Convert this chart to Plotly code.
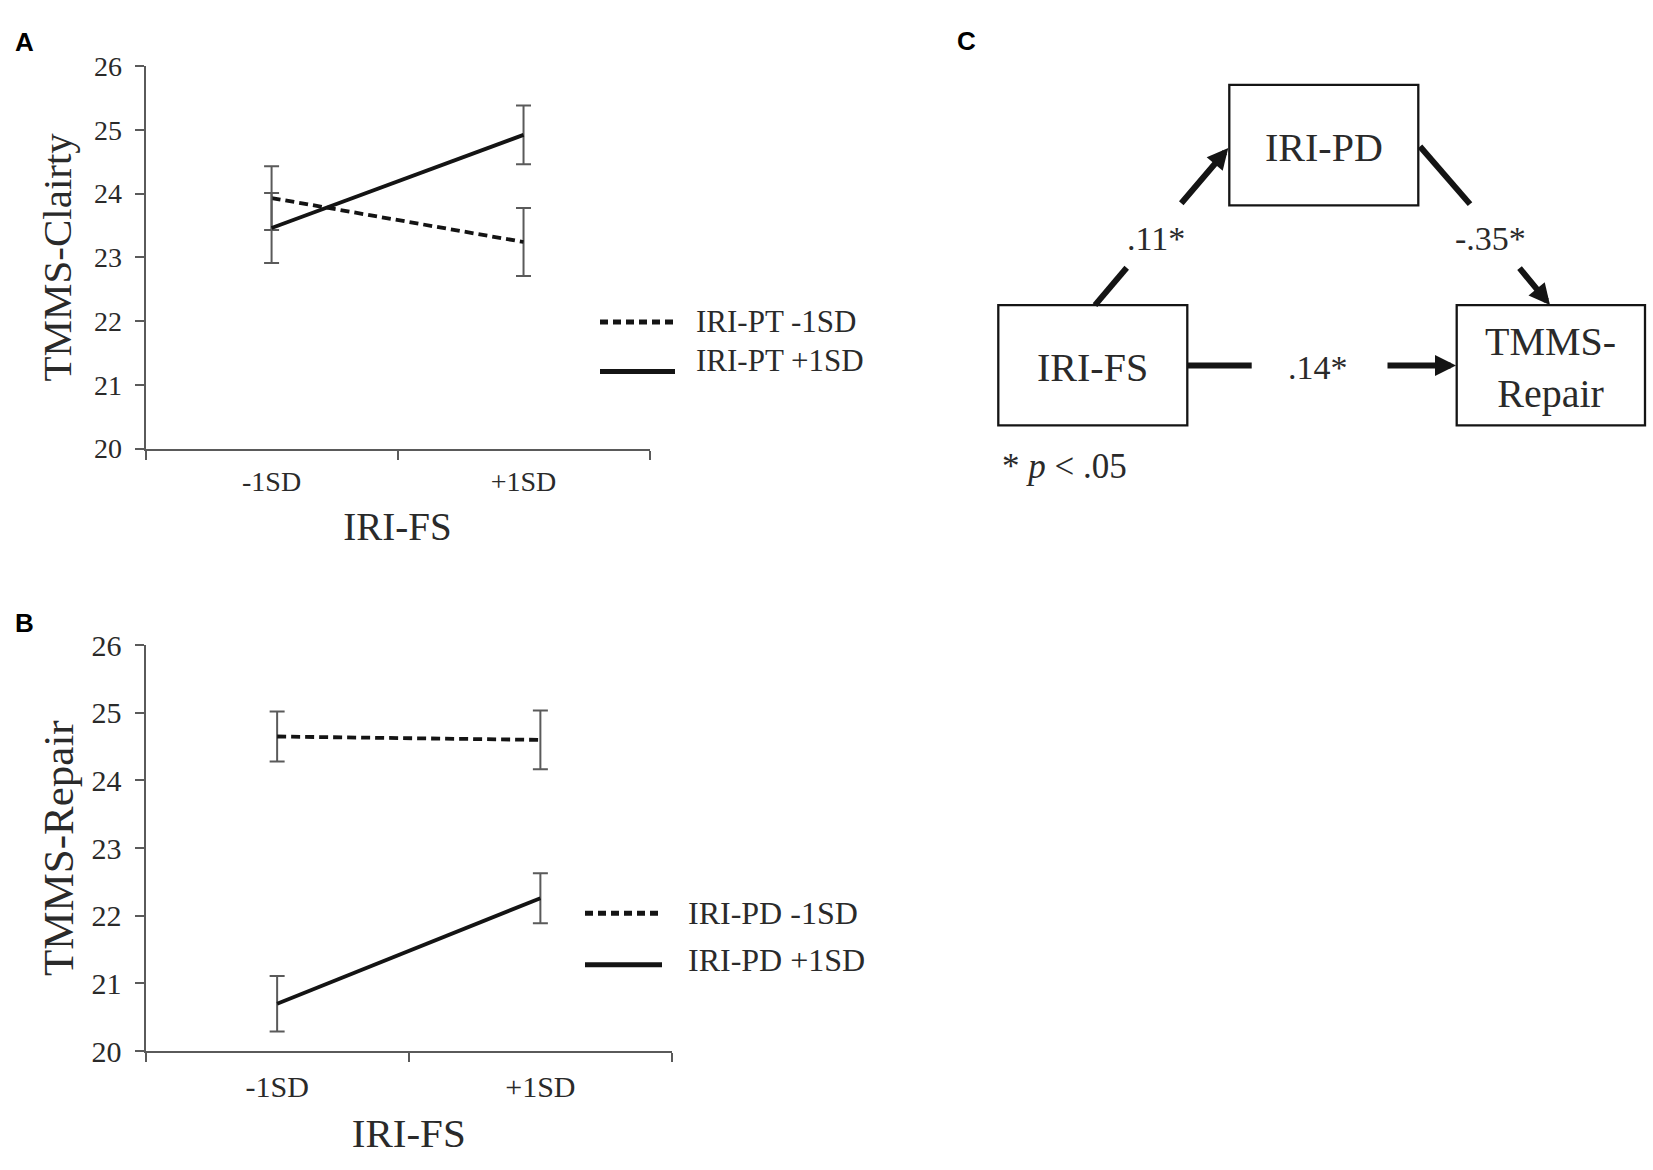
import plotly.graph_objects as go

# ---------------- data ----------------
categories = ["-1SD", "+1SD"]
y_ticks = [20, 21, 22, 23, 24, 25, 26]

# Panel A: TMMS-Clarity by IRI-FS, moderated by IRI-PT
a_labels = ["IRI-PT -1SD", "IRI-PT +1SD"]
a_pt_low = [23.93, 23.24]
a_pt_low_err = [0.50, 0.535]
a_pt_high = [23.46, 24.92]
a_pt_high_err = [0.55, 0.46]

# Panel B: TMMS-Repair by IRI-FS, moderated by IRI-PD
b_labels = ["IRI-PD -1SD", "IRI-PD +1SD"]
b_pd_low = [24.65, 24.60]
b_pd_low_err = [0.37, 0.435]
b_pd_high = [20.70, 22.26]
b_pd_high_err = [0.41, 0.37]

# Panel C: mediation model
c_nodes = ["IRI-PD", "IRI-FS", "TMMS-<br>Repair"]
c_coefs = [".11*", "-.35*", ".14*"]
c_note = "* <i>p</i> &lt; .05"

# ---------------- style ----------------
W, H = 1653, 1170
SERIF = "Liberation Serif"
SANS = "Liberation Sans"
TXT = "#2a2a2a"
AX = "#5a5a5a"
LINE = "#141414"
ERR = "#5a5a5a"


def fx(px):
    return px / W


def fy(py):
    return 1 - py / H


fig = go.Figure()


def add_series(y, err, dashed, xa, ya, name):
    fig.add_trace(go.Scatter(
        x=categories, y=y, mode="lines", name=name, showlegend=False,
        line=dict(color=LINE, width=3.8, dash="9px,5px" if dashed else "solid"),
        error_y=dict(type="data", array=err, visible=True, color=ERR,
                     thickness=2, width=7.5),
        xaxis=xa, yaxis=ya, hoverinfo="skip"))


add_series(a_pt_low, a_pt_low_err, True, "x", "y", a_labels[0])
add_series(a_pt_high, a_pt_high_err, False, "x", "y", a_labels[1])
add_series(b_pd_low, b_pd_low_err, True, "x2", "y2", b_labels[0])
add_series(b_pd_high, b_pd_high_err, False, "x2", "y2", b_labels[1])


def xaxis(dom, tsize, title_size, standoff, tl_standoff, anchor):
    return dict(domain=dom, anchor=anchor, type="category",
                categoryorder="array", categoryarray=categories,
                range=[-0.5, 1.5], tickson="boundaries",
                ticks="outside", ticklen=9, tickwidth=2, tickcolor=AX,
                showline=True, linecolor=AX, linewidth=2,
                showgrid=False, zeroline=False, fixedrange=True,
                ticklabelstandoff=tl_standoff,
                tickfont=dict(family=SERIF, size=tsize, color=TXT),
                title=dict(text="IRI-FS", standoff=standoff,
                           font=dict(family=SERIF, size=title_size, color=TXT)))


def yaxis(dom, title, tsize, title_size, standoff, anchor):
    return dict(domain=dom, anchor=anchor, range=[20, 26], tickvals=y_ticks,
                ticks="outside", ticklen=9, tickwidth=2, tickcolor=AX,
                showline=True, linecolor=AX, linewidth=2,
                showgrid=False, zeroline=False, fixedrange=True,
                ticklabelstandoff=7,
                tickfont=dict(family=SERIF, size=tsize, color=TXT),
                title=dict(text=title, standoff=standoff,
                           font=dict(family=SERIF, size=title_size, color=TXT)))


shapes = []
annotations = []


def legend_entry(x0, x1, yline, ytext, xtext, label, dashed, size):
    shapes.append(dict(type="line", xref="paper", yref="paper",
                       x0=fx(x0), x1=fx(x1), y0=fy(yline), y1=fy(yline),
                       line=dict(color=LINE, width=5,
                                 dash="8px,5px" if dashed else "solid")))
    annotations.append(dict(xref="paper", yref="paper", x=fx(xtext), y=fy(ytext),
                            xanchor="left", yanchor="middle", showarrow=False,
                            text=label, font=dict(family=SERIF, size=size, color=TXT)))


legend_entry(600, 675, 314, 314, 694, a_labels[0], True, 31)
legend_entry(600, 675, 365, 354, 694, a_labels[1], False, 31)
legend_entry(585, 662, 923, 923, 686, b_labels[0], True, 32)
legend_entry(585, 662, 976, 971, 686, b_labels[1], False, 32)

# panel letters
for letter, (lx, ly) in zip(["A", "B", "C"], [(24, 26), (24, 624), (966, 25)]):
    annotations.append(dict(xref="paper", yref="paper", x=fx(lx), y=fy(ly),
                            xanchor="center", yanchor="middle", showarrow=False,
                            text="<b>%s</b>" % letter,
                            font=dict(family=SANS, size=26, color="#000000")))

# ---------------- panel C diagram ----------------
boxes = [(1229.3, 70, 1418.3, 194), (998.3, 296.7, 1187.3, 420.7), (1456.7, 296.7, 1645, 420.7)]
for (x0, y0, x1, y1), label in zip(boxes, c_nodes):
    shapes.append(dict(type="rect", xref="paper", yref="paper",
                       x0=fx(x0), x1=fx(x1), y0=fy(y1), y1=fy(y0),
                       line=dict(color=LINE, width=2.3), fillcolor="rgba(0,0,0,0)"))
    annotations.append(dict(xref="paper", yref="paper", x=fx((x0 + x1) / 2),
                            y=fy((y0 + y1) / 2 + 2), xanchor="center", yanchor="middle",
                            showarrow=False, text=label,
                            font=dict(family=SERIF, size=40, color=TXT)))

# plain path segments
for (x0, y0, x1, y1) in [(1095, 296.7, 1126.7, 258.3), (1420, 133.3, 1470, 192.7),
                         (1188, 359, 1251.7, 359)]:
    shapes.append(dict(type="line", xref="paper", yref="paper",
                       x0=fx(x0), x1=fx(x1), y0=fy(y0), y1=fy(y1),
                       line=dict(color=LINE, width=6)))

# arrowed path segments (tail -> head)
for (tx, ty, hx, hy) in [(1180, 191.7, 1228.3, 135), (1518.3, 258.3, 1550, 296.7),
                         (1386, 359, 1456, 359)]:
    annotations.append(dict(xref="paper", yref="paper", x=fx(hx), y=fy(hy),
                            ax=tx - hx, ay=ty - hy, axref="pixel", ayref="pixel",
                            text="", showarrow=True, arrowhead=2, arrowsize=0.7,
                            arrowwidth=6, arrowcolor=LINE, standoff=0, startstandoff=0))

for (cx, cy), label in zip([(1155.8, 228.3), (1490.5, 228.3), (1317.5, 361)], c_coefs):
    annotations.append(dict(xref="paper", yref="paper", x=fx(cx), y=fy(cy),
                            xanchor="center", yanchor="middle", showarrow=False,
                            text=label, font=dict(family=SERIF, size=34, color=TXT)))

annotations.append(dict(xref="paper", yref="paper", x=fx(1000), y=fy(463),
                        xanchor="left", yanchor="middle", showarrow=False,
                        text=c_note, font=dict(family=SERIF, size=35, color=TXT)))

fig.update_layout(
    width=W, height=H, autosize=False,
    margin=dict(l=0, r=0, t=0, b=0),
    paper_bgcolor="white", plot_bgcolor="white",
    showlegend=False,
    xaxis=xaxis([fx(145.6), fx(649.5)], 28, 39, 17, 7, "y"),
    yaxis=yaxis([fy(444.5), fy(50.5)], "TMMS-Clairty", 28, 41, 10, "x"),
    xaxis2=xaxis([fx(145.5), fx(672)], 30, 41, 16, 8, "y2"),
    yaxis2=yaxis([fy(1065), fy(647)], "TMMS-Repair", 30, 43, 4, "x2"),
    shapes=shapes,
    annotations=annotations,
)

fig.write_html(
    "out.html",
    config={"displayModeBar": False},
    post_script=("document.body.style.margin='0';"
                 "document.body.style.overflow='hidden';"
                 "document.documentElement.style.overflow='hidden';"),
)
